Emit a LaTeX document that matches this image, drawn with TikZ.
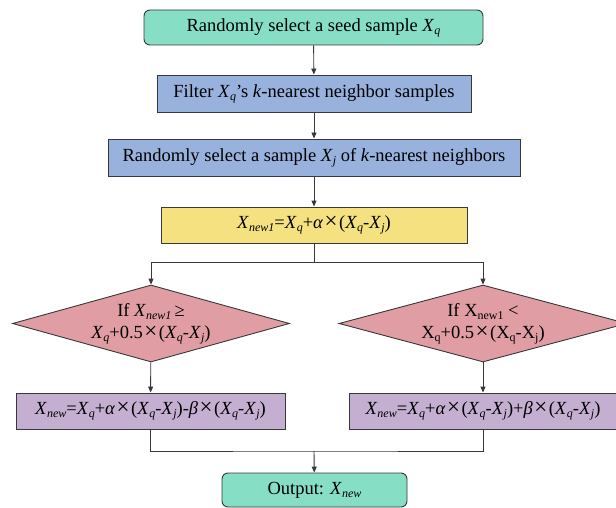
\documentclass[tikz,border=0pt]{standalone}
\usepackage{fontspec}
\setmainfont{Liberation Serif}
\usetikzlibrary{shapes.geometric,arrows.meta}

\definecolor{mint}{HTML}{86DEC5}
\definecolor{steel}{HTML}{98B1DD}
\definecolor{butter}{HTML}{F5E180}
\definecolor{rose}{HTML}{E09EA4}
\definecolor{lilac}{HTML}{C4AFD1}
\definecolor{edge}{HTML}{383838}

% italic variable with italic subscript
\newcommand{\vx}[2]{\textit{#1}\raisebox{-0.35ex}{\fontsize{12}{12}\selectfont\textit{#2}}}
% upright variable with upright subscript
\newcommand{\ux}[2]{#1\raisebox{-0.35ex}{\fontsize{12}{12}\selectfont #2}}
% wide multiplication sign
\newcommand{\tms}{\hspace{1.5pt}{\fontsize{23}{23}\selectfont ×}\hspace{1.5pt}}

\begin{document}
\begin{tikzpicture}[x=1pt,y=-1pt,
  every node/.style={font=\fontsize{18.5}{22}\selectfont, text=black},
  shape box/.style={draw=edge, line width=0.9pt, inner sep=0pt},
  term/.style={shape box, rectangle, rounded corners=6pt, fill=mint},
  procbox/.style={shape box, rectangle, fill=steel},
  formbox/.style={shape box, rectangle, fill=butter},
  testbox/.style={shape box, diamond, shape aspect=3.6, fill=rose, align=center},
  resbox/.style={shape box, rectangle, fill=lilac},
  link/.style={draw=edge, line width=0.9pt, -{Triangle[length=6pt,width=5pt]}},
  plain link/.style={draw=edge, line width=0.9pt}
]
\useasboundingbox (0,0) rectangle (616,508);
\clip (0,0) rectangle (616,508);

\node[term, minimum width=339pt, minimum height=35pt] (seed) at (313.5,27.5)
  {Randomly select a seed sample \vx{X}{q}};
\node[procbox, minimum width=314pt, minimum height=37pt] (filter) at (314,93.5)
  {Filter \vx{X}{q}’s \textit{k}-nearest neighbor samples};
\node[procbox, minimum width=412pt, minimum height=37pt] (pick) at (314,157.5)
  {Randomly select a sample \vx{X}{j} of \textit{k}-nearest neighbors};
\node[formbox, minimum width=306pt, minimum height=36pt] (mix) at (314,225)
  {\vx{X}{new1}=\vx{X}{q}+\textit{α}\tms(\vx{X}{q}-\vx{X}{j})};

\node[testbox, minimum width=277pt, minimum height=77pt] (ge) at (151,323.5)
  {If \vx{X}{new1}\,≥\\\vx{X}{q}+0.5\tms(\vx{X}{q}-\vx{X}{j})};
\node[testbox, minimum width=288pt, minimum height=77pt] (lt) at (483,323.5)
  {If \ux{X}{new1} <\\\ux{X}{q}+0.5\tms(\ux{X}{q}-\ux{X}{j})};

\node[resbox, minimum width=269pt, minimum height=36pt] (minus) at (150.5,411)
  {\vx{X}{new}=\vx{X}{q}+\textit{α}\tms(\vx{X}{q}-\vx{X}{j})-\textit{β}\tms(\vx{X}{q}-\vx{X}{j})};
\node[resbox, minimum width=268pt, minimum height=36pt] (plus) at (483,411)
  {\vx{X}{new}=\vx{X}{q}+\textit{α}\tms(\vx{X}{q}-\vx{X}{j})+\textit{β}\tms(\vx{X}{q}-\vx{X}{j})};

\node[term, minimum width=185pt, minimum height=34pt] (out) at (314.5,490)
  {Output: \vx{X}{new}};

\coordinate (split) at (314,262);
\coordinate (merge) at (314,451);

\draw[link] (seed) -- (filter);
\draw[link] (filter) -- (pick);
\draw[link] (pick) -- (mix);
\draw[plain link] (mix.south) -- (split);
\draw[link] (split) -| (ge.north);
\draw[link] (split) -| (lt.north);
\draw[link] (ge) -- (minus);
\draw[link] (lt) -- (plus);
\draw[plain link] (minus.south) |- (merge) -| (plus.south);
\draw[link] (merge) -- (out);
\end{tikzpicture}
\end{document}
